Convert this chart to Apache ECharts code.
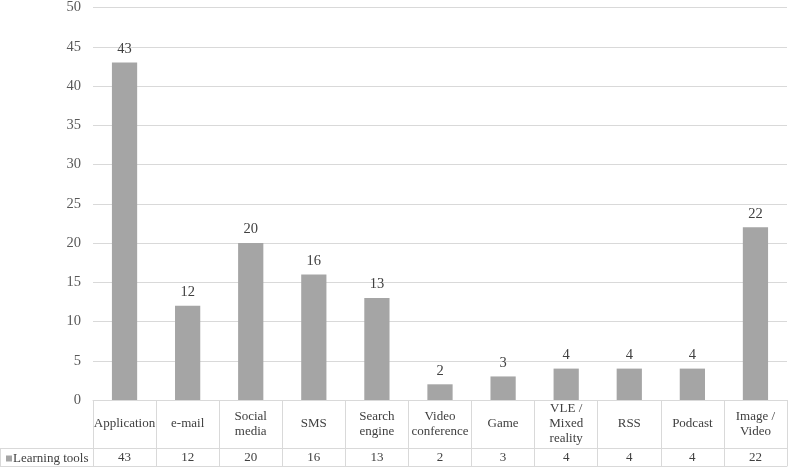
<!DOCTYPE html>
<html>
<head>
<meta charset="utf-8">
<script src="https://cdn.jsdelivr.net/npm/echarts@6/dist/echarts.min.js"></script>
<style>
html,body{margin:0;padding:0;background:#fff;}
#chart{width:789px;height:470px;}
</style>
</head>
<body>
<div id="chart"></div>
<script>
const categories = ["Application", "e-mail", "Social\nmedia", "SMS", "Search\nengine", "Video\nconference", "Game", "VLE /\nMixed\nreality", "RSS", "Podcast", "Image /\nVideo"];
const seriesName = "Learning tools";
const values = [43, 12, 20, 16, 13, 2, 3, 4, 4, 4, 22];
const yTicks = { min: 0, max: 50, interval: 5 };

const FONT = "'Liberation Serif', 'Times New Roman', serif";
const LINE = '#D9D9D9';
const chart = echarts.init(document.getElementById('chart'), null, { renderer: 'canvas' });

chart.setOption({
  animation: false,
  backgroundColor: '#ffffff',
  textStyle: { fontFamily: FONT },
  grid: { left: 93, right: 2, top: 7, bottom: 70, containLabel: false },
  legend: {
    data: [seriesName],
    left: 6, top: 452, padding: 0,
    icon: 'rect', itemWidth: 6, itemHeight: 6, itemGap: 0,
    textStyle: { fontFamily: FONT, fontSize: 13, color: '#404040', padding: [0, 0, 0, -4] }
  },
  xAxis: [
    {
      type: 'category', data: categories, position: 'bottom',
      axisLine: { show: true, lineStyle: { color: LINE, width: 1 } },
      axisTick: { show: true, length: 48, lineStyle: { color: LINE } },
      axisLabel: { interval: 0, margin: 24, verticalAlign: 'middle', lineHeight: 15,
        fontFamily: FONT, fontSize: 13, color: '#404040' }
    },
    {
      type: 'category', data: categories, position: 'bottom', offset: 48,
      axisLine: { show: true, lineStyle: { color: LINE, width: 1 } },
      axisTick: { show: true, length: 18, lineStyle: { color: LINE } },
      axisLabel: { interval: 0, margin: 10, verticalAlign: 'middle',
        fontFamily: FONT, fontSize: 13, color: '#404040',
        formatter: (v, i) => String(values[i]) }
    },
    {
      type: 'category', data: categories, position: 'bottom', offset: 66,
      axisLine: { show: true, lineStyle: { color: LINE, width: 1 } },
      axisTick: { show: false }, axisLabel: { show: false }
    }
  ],
  yAxis: {
    type: 'value', min: yTicks.min, max: yTicks.max, interval: yTicks.interval,
    axisLine: { show: false }, axisTick: { show: false },
    splitLine: { show: true, lineStyle: { color: LINE, width: 1 } },
    axisLabel: { margin: 12, fontFamily: FONT, fontSize: 14.5, color: '#595959' }
  },
  series: [{
    name: seriesName, type: 'bar', data: values, barWidth: '40%',
    xAxisIndex: 0,
    itemStyle: { color: '#A5A5A5' },
    label: { show: true, position: 'top', distance: 6, fontFamily: FONT, fontSize: 14.5, color: '#404040' }
  }],
  graphic: [
    { type: 'line', shape: { x1: 0, y1: 448.5, x2: 93, y2: 448.5 }, style: { stroke: LINE, lineWidth: 1 } },
    { type: 'line', shape: { x1: 0, y1: 466.5, x2: 93, y2: 466.5 }, style: { stroke: LINE, lineWidth: 1 } },
    { type: 'line', shape: { x1: 0.5, y1: 448.5, x2: 0.5, y2: 466.5 }, style: { stroke: LINE, lineWidth: 1 } }
  ]
});
</script>
</body>
</html>
